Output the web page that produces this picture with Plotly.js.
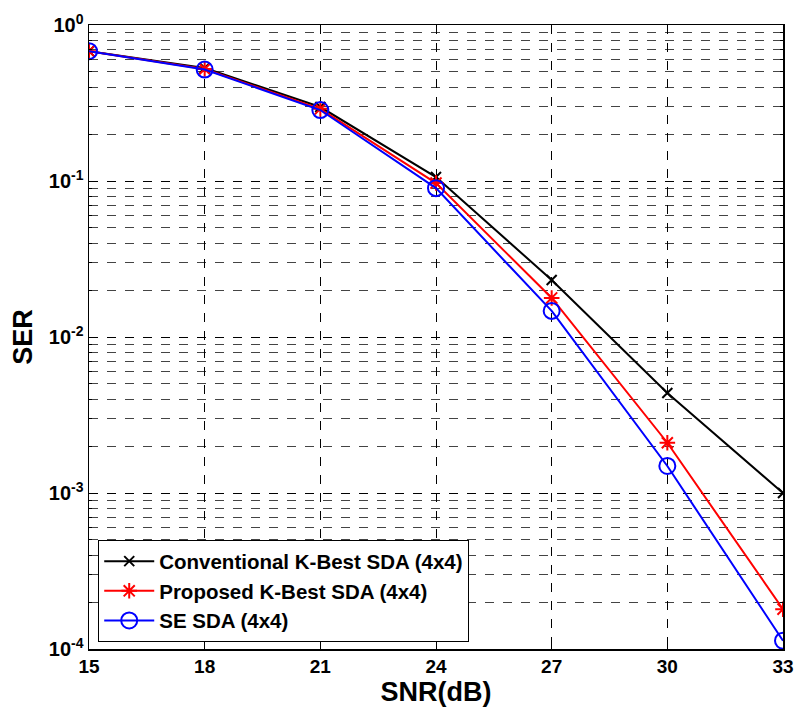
<!DOCTYPE html>
<html>
<head>
<meta charset="utf-8">
<script src="https://cdn.plot.ly/plotly-3.0.1.min.js"></script>
<style>html,body{margin:0;padding:0;background:#fff}#chart{width:796px;height:709px}</style>
</head>
<body>
<div id="chart"></div>
<script>
const snr = [15, 18, 21, 24, 27, 30, 33];
const serConventional = [0.68, 0.53, 0.298, 0.106, 0.0232, 0.00438, 0.00100];
const serProposed = [0.68, 0.522, 0.29, 0.097, 0.0178, 0.0021, 0.000180];
const serSE = [0.68, 0.518, 0.285, 0.090, 0.0147, 0.00149, 0.000113];
const names = ['Conventional K-Best SDA (4x4)', 'Proposed K-Best SDA (4x4)', 'SE SDA (4x4)'];
const xTicks = [15, 18, 21, 24, 27, 30, 33];
const yTickVals = [1e-4, 1e-3, 1e-2, 1e-1, 1];
const yTickText = ['10<sup>-4</sup>', '10<sup>-3</sup>', '10<sup>-2</sup>', '10<sup>-1</sup>', '10<sup>0</sup>'];

const fam = 'Arial, "Liberation Sans", sans-serif';
const traces = [
  {x: snr, y: serConventional, name: names[0], mode: 'lines+markers',
   line: {color: '#000000', width: 2},
   marker: {symbol: 'x-thin-open', size: 10, line: {color: '#000000', width: 2}}},
  {x: snr, y: serProposed, name: names[1], mode: 'lines+markers',
   line: {color: '#ff0000', width: 2},
   marker: {symbol: 'asterisk-open', size: 13, line: {color: '#ff0000', width: 2}}},
  {x: snr, y: serSE, name: names[2], mode: 'lines+markers',
   line: {color: '#0000ff', width: 2},
   marker: {symbol: 'circle-open', size: 16, color: '#0000ff', line: {color: '#0000ff', width: 2}}}
];

const layout = {
  width: 796, height: 709,
  margin: {l: 89, r: 13, t: 25, b: 60},
  paper_bgcolor: '#ffffff', plot_bgcolor: '#ffffff',
  font: {family: fam, color: '#000000'},
  showlegend: true,
  legend: {x: 0.013, y: 0.011, xanchor: 'left', yanchor: 'bottom',
    bgcolor: '#ffffff', bordercolor: '#000000', borderwidth: 1.2,
    itemwidth: 50,
    font: {family: fam, size: 20.5, weight: 'bold', color: '#000000'},
    tracegroupgap: 0},
  xaxis: {
    range: [15, 33], tickvals: xTicks, ticktext: xTicks.map(String),
    showline: true, linecolor: '#000000', linewidth: 1.5, mirror: 'ticks',
    ticks: 'inside', ticklen: 5, tickcolor: '#000000',
    showgrid: true, gridcolor: '#000000', gridwidth: 1, griddash: 'dash',
    zeroline: false,
    tickfont: {family: fam, size: 19, weight: 'bold'},
    title: {text: 'SNR(dB)', font: {family: fam, size: 27, weight: 'bold'}, standoff: 2}
  },
  yaxis: {
    type: 'log', range: [-4, 0], tickvals: yTickVals, ticktext: yTickText,
    showline: true, linecolor: '#000000', linewidth: 1.5, mirror: 'ticks',
    ticks: 'inside', ticklen: 5, tickcolor: '#000000',
    showgrid: true, gridcolor: '#000000', gridwidth: 1, griddash: 'dash',
    minor: {dtick: 'D1', showgrid: true, gridcolor: '#444444', gridwidth: 1, griddash: 'dash', ticks: 'inside', ticklen: 3, tickcolor: '#000000'},
    zeroline: false,
    tickfont: {family: fam, size: 20, weight: 'bold'},
    title: {text: 'SER', font: {family: fam, size: 27, weight: 'bold'}, standoff: 8}
  }
};

Plotly.newPlot('chart', traces, layout, {displayModeBar: false, staticPlot: true});
</script>
</body>
</html>
